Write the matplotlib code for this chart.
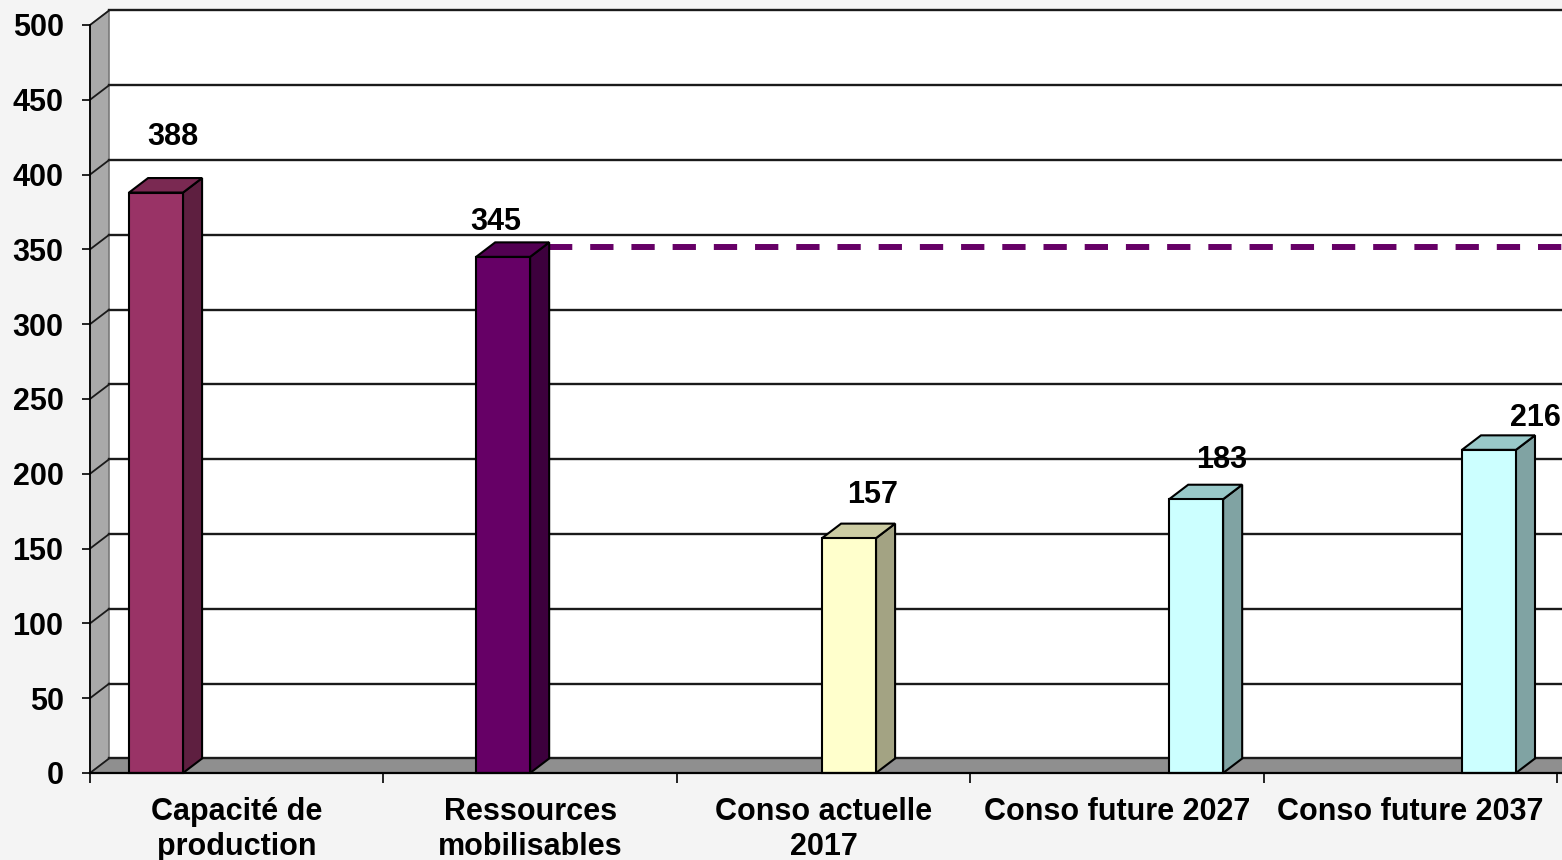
import matplotlib.pyplot as plt
from matplotlib.patches import Polygon, Rectangle

plt.rcParams['font.family'] = ['Liberation Sans', 'DejaVu Sans']
plt.rcParams['font.weight'] = 'bold'

# data
categories = ["Capacité de\nproduction", "Ressources\nmobilisables",
              "Conso actuelle\n2017", "Conso future 2027", "Conso future 2037"]
values = [388, 345, 157, 183, 216]
threshold = 345
y_ticks = [0, 50, 100, 150, 200, 250, 300, 350, 400, 450, 500]

# layout / style
bar_left = [0.133, 1.316, 2.495, 3.678, 4.676]
bar_width = 0.184
front_colors = ['#993366', '#660066', '#ffffcc', '#ccffff', '#ccffff']
side_colors = ['#5e1f40', '#3d003d', '#a3a383', '#80a3a3', '#80a3a3']
top_colors = ['#7a2952', '#520052', '#cccca3', '#99c9c9', '#99c9c9']
label_off = [(44, 56), (20, 35), (51, 43), (53, 39), (73, 32)]
DX, DY = 0.065, 9.7   # depth of the 3d effect, in data units

fig = plt.figure(figsize=(15.62, 8.6), dpi=100)
fig.patch.set_facecolor('#f4f4f4')
ax = fig.add_axes([90 / 1562, 87 / 860, 1472 / 1562, 748 / 860])
ax.patch.set_visible(False)
xmax = 1472 / 293.4
ax.set_xlim(0, xmax)
ax.set_ylim(0, 500)
x_end = xmax + 0.3

# back wall
ax.add_patch(Rectangle((DX, DY), x_end, 500, facecolor='white',
                       edgecolor='none', zorder=1, clip_on=False))
# left wall
ax.add_patch(Polygon([(0, 0), (DX, DY), (DX, 500 + DY), (0, 500)],
                     facecolor='#a9a9a9', edgecolor='#555555', lw=0.8,
                     zorder=1, clip_on=False))
# floor
ax.add_patch(Polygon([(0, 0), (DX, DY), (x_end, DY), (x_end, 0)],
                     facecolor='#8f8f8f', edgecolor='none',
                     zorder=1, clip_on=False))

# gridlines on the back wall and the left wall
for v in y_ticks:
    ax.plot([DX, x_end], [v + DY, v + DY], color='#1a1a1a', lw=1.7,
            zorder=2, clip_on=False)
    ax.plot([0, DX], [v, v + DY], color='#1a1a1a', lw=1.3,
            zorder=2, clip_on=False)

# dashed level of the mobilisable resources
ax.plot([bar_left[1] + bar_width + DX, x_end],
        [threshold + 0.7 * DY, threshold + 0.7 * DY],
        color='#660066', lw=4.3, dashes=(3.9, 3.0), dash_capstyle='butt',
        zorder=3, clip_on=False)

# 3d bars
for i, v in enumerate(values):
    x0 = bar_left[i]
    x1 = x0 + bar_width
    ax.add_patch(Polygon([(x1, 0), (x1 + DX, DY), (x1 + DX, v + DY), (x1, v)],
                         facecolor=side_colors[i], edgecolor='black', lw=1.5,
                         zorder=4, clip_on=False))
    ax.add_patch(Polygon([(x0, v), (x0 + DX, v + DY), (x1 + DX, v + DY), (x1, v)],
                         facecolor=top_colors[i], edgecolor='black', lw=1.5,
                         zorder=4, clip_on=False))
    ax.add_patch(Rectangle((x0, 0), bar_width, v, facecolor=front_colors[i],
                           edgecolor='black', lw=1.5, zorder=5, clip_on=False))
    ax.annotate(str(v), (x0, v), xytext=label_off[i], textcoords='offset pixels',
                ha='center', va='center', fontsize=22, fontweight='bold',
                zorder=6, annotation_clip=False)

# axes lines and ticks
for s in ['top', 'right']:
    ax.spines[s].set_visible(False)
ax.spines['left'].set_bounds(0, 500)
ax.spines['left'].set_linewidth(1.3)
ax.spines['bottom'].set_linewidth(1.6)
ax.spines['left'].set_zorder(7)
ax.spines['bottom'].set_zorder(7)
ax.set_yticks(y_ticks)
ax.tick_params(axis='y', direction='out', length=6, width=1.2, pad=13,
               labelsize=22)
ax.set_xticks(range(6))
ax.set_xticks([i + 0.5 for i in range(5)], minor=True)
ax.set_xticklabels(categories, minor=True)
ax.tick_params(axis='x', which='major', direction='out', length=7, width=1.2,
               labelbottom=False)
ax.tick_params(axis='x', which='minor', length=0, pad=17, labelsize=22)
for lab in ax.get_xticklabels(minor=True):
    lab.set_linespacing(1.25)
for lab in ax.get_xticklabels(minor=True) + ax.get_yticklabels():
    lab.set_fontweight('bold')

fig.savefig('out.png', dpi=100, facecolor=fig.get_facecolor())
